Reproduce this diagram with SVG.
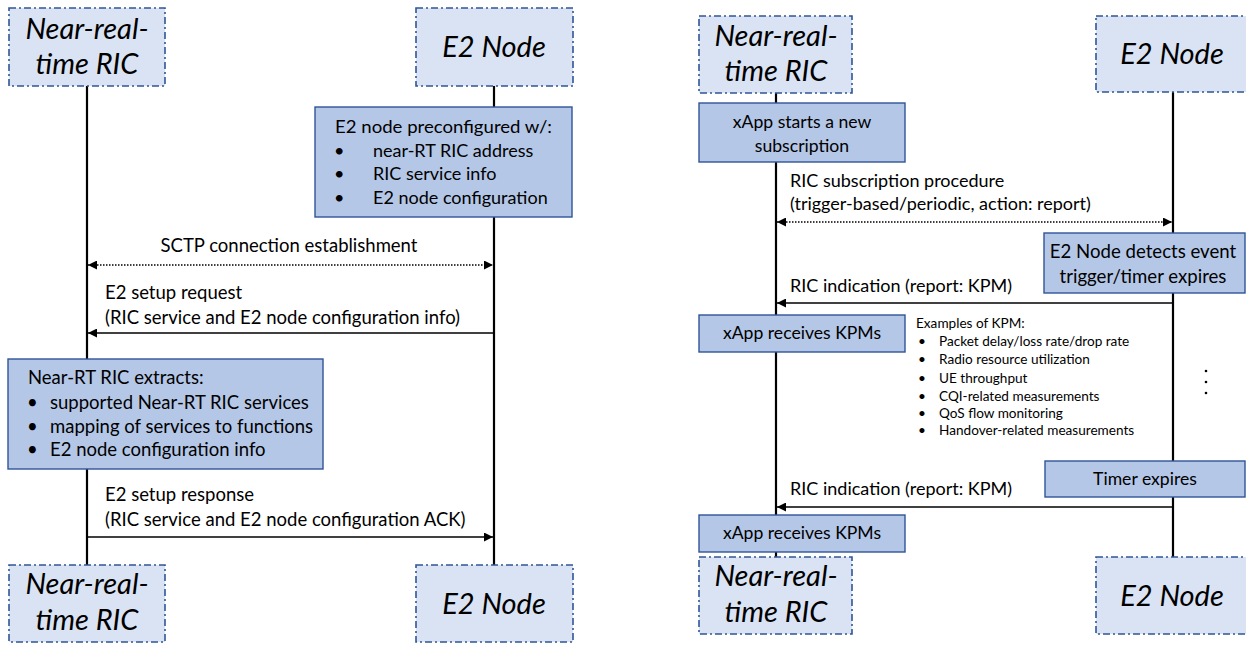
<svg xmlns="http://www.w3.org/2000/svg" width="1246" height="646" viewBox="0 0 1246 646">
<defs>
<style>
.hdr{fill:#dae3f3;stroke:#2f5597;stroke-width:1.6;stroke-dasharray:7 3 2 3}
.act{fill:#b4c7e7;stroke:#2f5597;stroke-width:1.4}
.ht{font-family:Lato,"Liberation Sans",sans-serif;font-style:italic;font-size:29px;fill:#000;text-anchor:middle}
.t{font-family:Lato,"Liberation Sans",sans-serif;font-size:18px;fill:#000}
.tl{font-family:Lato,"Liberation Sans",sans-serif;font-size:18.5px;fill:#000}
.tc{font-family:Lato,"Liberation Sans",sans-serif;font-size:17.6px;fill:#000;text-anchor:middle}
.tb{font-family:Lato,"Liberation Sans",sans-serif;font-size:18.6px;fill:#000;text-anchor:middle}
.s{font-family:Lato,"Liberation Sans",sans-serif;font-size:13.6px;fill:#000}
.life{stroke:#000;stroke-width:2.2;fill:none}
.msg{stroke:#000;stroke-width:1.6;fill:none}
.dot{stroke:#000;stroke-width:1.6;fill:none;stroke-dasharray:1.5 1.5}
</style>
<marker id="ah2" viewBox="0 0 10 10" refX="10" refY="5" markerWidth="10" markerHeight="9" orient="auto-start-reverse" markerUnits="userSpaceOnUse">
<path d="M0,0 L10,5 L0,10 z" fill="#000"/>
</marker>
</defs>

<g id="connectors">
<line class="life" x1="87" y1="86" x2="87" y2="565"/>
<line class="life" x1="494" y1="86" x2="494" y2="565"/>
<line class="life" x1="776" y1="93" x2="776" y2="557"/>
<line class="life" x1="1173" y1="92" x2="1173" y2="557"/>
<line class="dot" x1="88" y1="265" x2="493" y2="265" marker-start="url(#ah2)" marker-end="url(#ah2)"/>
<line class="msg" x1="494" y1="333" x2="88" y2="333" marker-end="url(#ah2)"/>
<line class="msg" x1="87" y1="537" x2="493" y2="537" marker-end="url(#ah2)"/>
<line class="dot" x1="777" y1="222" x2="1172" y2="222" marker-start="url(#ah2)" marker-end="url(#ah2)"/>
<line class="msg" x1="1173" y1="303" x2="777" y2="303" marker-end="url(#ah2)"/>
<line class="msg" x1="1173" y1="507" x2="777" y2="507" marker-end="url(#ah2)"/>
<text class="tl" x="289" y="252" text-anchor="middle">SCTP connection establishment</text>
<text class="tl" x="105" y="299">E2 setup request</text>
<text class="tl" x="105" y="324">(RIC service and E2 node configuration info)</text>
<text class="tl" x="105" y="501">E2 setup response</text>
<text class="tl" x="105" y="526">(RIC service and E2 node configuration ACK)</text>
<text class="t" x="790" y="187">RIC subscription procedure</text>
<text class="t" x="790" y="210">(trigger-based/periodic, action: report)</text>
<text class="t" x="790" y="292">RIC indication (report: KPM)</text>
<text class="t" x="790" y="495">RIC indication (report: KPM)</text>
</g>

<g id="ric-top-left">
<rect class="hdr" x="9" y="8" width="156" height="78"/>
<text class="ht" x="87" y="39">Near-real-</text>
<text class="ht" x="87" y="74">time RIC</text>
</g>
<g id="e2-top-left">
<rect class="hdr" x="416" y="8" width="157" height="78"/>
<text class="ht" x="494" y="57">E2 Node</text>
</g>
<g id="e2-preconfig">
<rect class="act" x="315" y="107" width="257" height="110"/>
<text class="t" x="335" y="133" textLength="217" lengthAdjust="spacingAndGlyphs">E2 node preconfigured w/:</text>
<text class="t" x="334" y="157">•</text><text class="t" x="373" y="157">near-RT RIC address</text>
<text class="t" x="334" y="180">•</text><text class="t" x="373" y="180">RIC service info</text>
<text class="t" x="334" y="204">•</text><text class="t" x="373" y="204">E2 node configuration</text>
</g>
<g id="ric-extracts">
<rect class="act" x="8" y="359" width="315" height="110"/>
<text class="tl" x="28" y="384">Near-RT RIC extracts:</text>
<text class="tl" x="27" y="409">•</text><text class="tl" x="50" y="409">supported Near-RT RIC services</text>
<text class="tl" x="27" y="433">•</text><text class="tl" x="50" y="433">mapping of services to functions</text>
<text class="tl" x="27" y="456">•</text><text class="tl" x="50" y="456">E2 node configuration info</text>
</g>
<g id="ric-bottom-left">
<rect class="hdr" x="9" y="565" width="156" height="77"/>
<text class="ht" x="87" y="594">Near-real-</text>
<text class="ht" x="87" y="630">time RIC</text>
</g>
<g id="e2-bottom-left">
<rect class="hdr" x="416" y="565" width="157" height="77"/>
<text class="ht" x="494" y="614">E2 Node</text>
</g>

<g id="ric-top-right">
<rect class="hdr" x="699" y="16" width="153" height="77"/>
<text class="ht" x="776" y="46">Near-real-</text>
<text class="ht" x="776" y="81">time RIC</text>
</g>
<g id="e2-top-right">
<rect class="hdr" x="1096" y="16" width="156" height="76"/>
<text class="ht" x="1172" y="64">E2 Node</text>
</g>
<g id="xapp-start">
<rect class="act" x="699" y="103" width="206" height="59"/>
<text class="tc" x="802" y="128">xApp starts a new</text>
<text class="tc" x="802" y="152">subscription</text>
</g>
<g id="e2-detects">
<rect class="act" x="1044" y="233" width="201" height="60"/>
<text class="tb" x="1143" y="258">E2 Node detects event</text>
<text class="tb" x="1143" y="283">trigger/timer expires</text>
</g>
<g id="xapp-receives-1">
<rect class="act" x="699" y="315" width="206" height="37"/>
<text class="tc" x="802" y="339">xApp receives KPMs</text>
</g>
<g id="kpm-examples">
<text class="s" x="916" y="328">Examples of KPM:</text>
<text class="s" x="918" y="346">•</text><text class="s" x="939" y="346">Packet delay/loss rate/drop rate</text>
<text class="s" x="918" y="364">•</text><text class="s" x="939" y="364">Radio resource utilization</text>
<text class="s" x="918" y="383">•</text><text class="s" x="939" y="383">UE throughput</text>
<text class="s" x="918" y="401">•</text><text class="s" x="939" y="401">CQI-related measurements</text>
<text class="s" x="918" y="418">•</text><text class="s" x="939" y="418">QoS flow monitoring</text>
<text class="s" x="918" y="435">•</text><text class="s" x="939" y="435">Handover-related measurements</text>
</g>
<g id="ellipsis">
<circle cx="1206" cy="371" r="1.3" fill="#000"/>
<circle cx="1206" cy="382" r="1.3" fill="#000"/>
<circle cx="1206" cy="393" r="1.3" fill="#000"/>
</g>
<g id="timer-expires">
<rect class="act" x="1045" y="461" width="200" height="36"/>
<text class="tc" x="1145" y="485">Timer expires</text>
</g>
<g id="xapp-receives-2">
<rect class="act" x="699" y="515" width="206" height="37"/>
<text class="tc" x="802" y="539">xApp receives KPMs</text>
</g>
<g id="ric-bottom-right">
<rect class="hdr" x="699" y="557" width="153" height="77"/>
<text class="ht" x="776" y="586">Near-real-</text>
<text class="ht" x="776" y="622">time RIC</text>
</g>
<g id="e2-bottom-right">
<rect class="hdr" x="1096" y="557" width="156" height="77"/>
<text class="ht" x="1172" y="606">E2 Node</text>
</g>
</svg>
